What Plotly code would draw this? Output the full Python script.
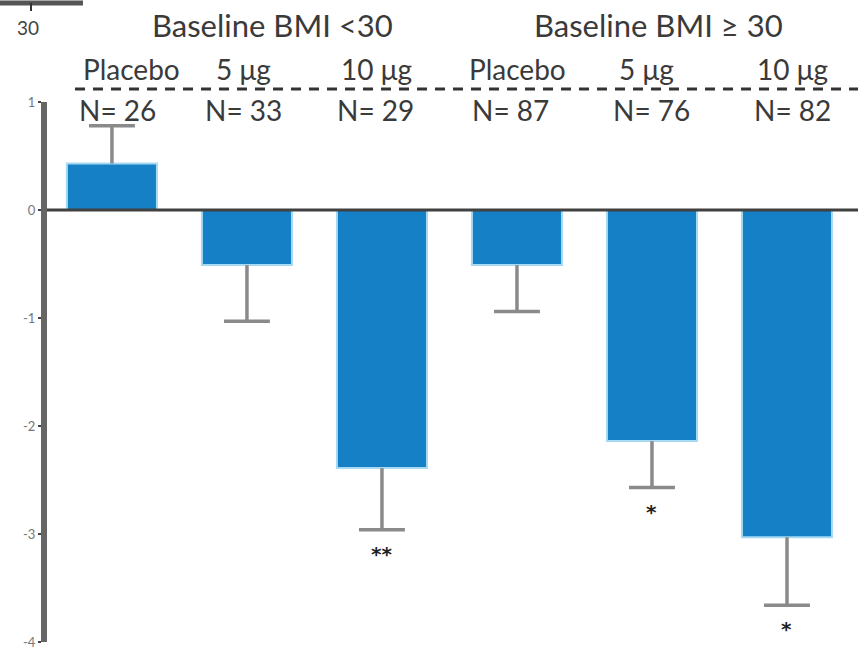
import plotly.graph_objects as go

# ---- data ----
categories = ["Placebo", "5 μg", "10 μg", "Placebo", "5 μg", "10 μg"]
n_labels = ["N= 26", "N= 33", "N= 29", "N= 87", "N= 76", "N= 82"]
groups = ["Baseline BMI <30", "Baseline BMI ≥ 30"]
group_centers = [1.19, 4.05]
means = [0.43, -0.51, -2.39, -0.51, -2.14, -3.03]
errors = [0.35, 0.52, 0.57, 0.43, 0.43, 0.63]
significance = ["", "", "**", "", "*", "*"]
ytick_vals = [1, 0, -1, -2, -3, -4]
ytick_text = ["1", "0", "-1", "-2", "-3", "-4"]

xpos = list(range(len(means)))

W, H = 858, 656
ML, MR, MT, MB = 47, 0, 102, 14
PW, PH = W - ML - MR, H - MT - MB


def px_to_paper_x(px):
    return (px - ML) / PW


def px_to_paper_y(py):
    return (H - MB - py) / PH


fig = go.Figure()

# bars
fig.add_trace(go.Bar(
    x=xpos, y=means, width=0.667,
    marker=dict(color="#1680C6", line=dict(color="#A8D9F2", width=2)),
    showlegend=False, hoverinfo="skip",
))

# error bars drawn as line segments (one-sided, outward)
ex, ey = [], []
cap = 0.17
for x, m, e in zip(xpos, means, errors):
    end = m + e if m >= 0 else m - e
    ex += [x, x, None, x - cap, x + cap, None]
    ey += [m, end, None, end, end, None]
fig.add_trace(go.Scatter(x=ex, y=ey, mode="lines",
                         line=dict(color="#8A8A8A", width=3.5),
                         showlegend=False, hoverinfo="skip"))

# zero line
fig.add_shape(type="line", xref="paper", yref="y", x0=0, x1=1, y0=0, y1=0,
              line=dict(color="#404040", width=3))

# dashed separator between treatment labels and N labels
fig.add_shape(type="line", xref="paper", yref="paper",
              x0=px_to_paper_x(75), x1=1, y0=px_to_paper_y(89), y1=px_to_paper_y(89),
              line=dict(color="#333", width=3, dash="10px,8px"))

# cropped remnant of previous panel (top-left)
fig.add_shape(type="line", xref="paper", yref="paper",
              x0=px_to_paper_x(0), x1=px_to_paper_x(83),
              y0=px_to_paper_y(3), y1=px_to_paper_y(3),
              line=dict(color="#555", width=5))
fig.add_shape(type="line", xref="paper", yref="paper",
              x0=px_to_paper_x(31), x1=px_to_paper_x(31),
              y0=px_to_paper_y(3), y1=px_to_paper_y(11),
              line=dict(color="#333", width=2))
fig.add_annotation(x=px_to_paper_x(28), y=px_to_paper_y(27), xref="paper", yref="paper",
                   xanchor="center", yanchor="middle",
                   text="30", showarrow=False,
                   font=dict(family="Lato", size=19, color="#444"))

# significance stars
for x, m, e, s in zip(xpos, means, errors, significance):
    if s:
        fig.add_annotation(x=x, y=m - e, yshift=-24, yanchor="middle",
                           text="<b>" + s + "</b>", showarrow=False,
                           font=dict(family="DejaVu Sans", size=20, color="#222"))

FONT = "Lato"
# group titles
for gx, g in zip(group_centers, groups):
    fig.add_annotation(x=gx, y=px_to_paper_y(25), yref="paper", yanchor="middle",
                       text=g, showarrow=False,
                       font=dict(family=FONT, size=31, color="#3a3a3a"))

# treatment labels
label_shift = [20, -3, -5, 1, -5, 6]
for x, lab, sh in zip(xpos, categories, label_shift):
    fig.add_annotation(x=x, xshift=sh, y=px_to_paper_y(69), yref="paper",
                       yanchor="middle", text=lab, showarrow=False,
                       font=dict(family=FONT, size=28, color="#3a3a3a"))
# N labels
n_shift = [6, -3, -6, -6, 0, 6]
for x, lab, sh in zip(xpos, n_labels, n_shift):
    fig.add_annotation(x=x, xshift=sh, y=px_to_paper_y(110), yref="paper",
                       yanchor="middle", text=lab, showarrow=False,
                       font=dict(family=FONT, size=28, color="#3a3a3a"))

fig.update_layout(
    width=W, height=H,
    margin=dict(l=ML, r=MR, t=MT, b=MB, pad=0),
    paper_bgcolor="white", plot_bgcolor="white",
    xaxis=dict(range=[-0.481, 5.526], visible=False, fixedrange=True),
    yaxis=dict(range=[-4, 1], tickvals=ytick_vals, ticktext=ytick_text,
               showgrid=False, zeroline=False, showline=True,
               linecolor="#666", linewidth=6, ticks="outside", ticklen=3,
               tickcolor="#444", tickwidth=2,
               tickfont=dict(family="Lato", size=13, color="#777")),
)

fig.write_html("out.html")
